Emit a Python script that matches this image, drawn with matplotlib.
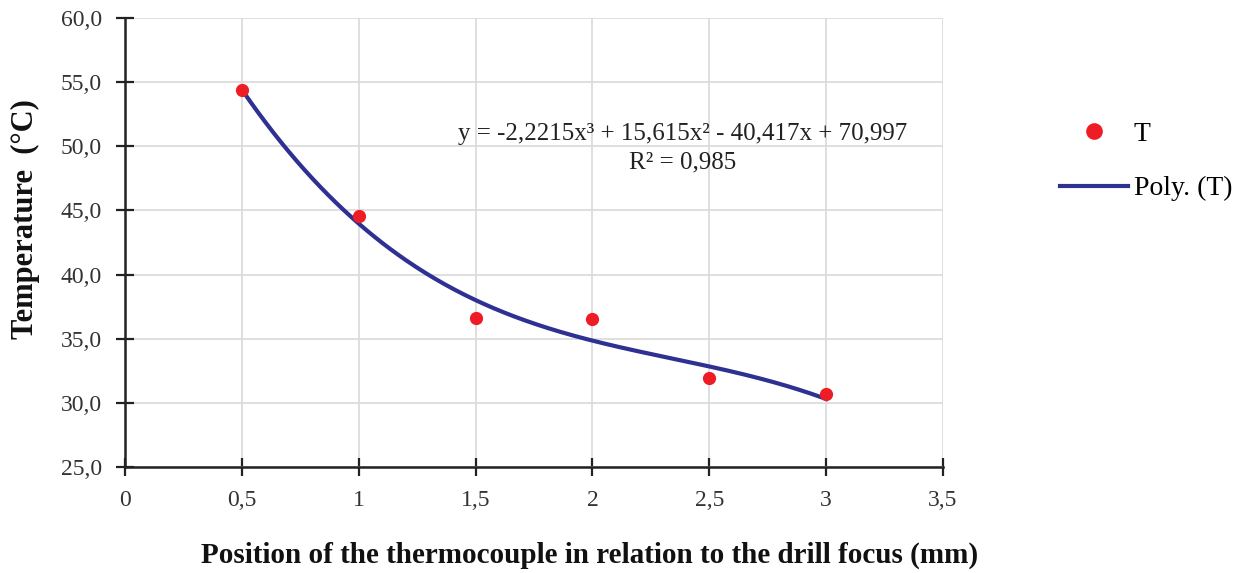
import numpy as np
import matplotlib
matplotlib.use("Agg")
import matplotlib.pyplot as plt
from matplotlib.lines import Line2D

plt.rcParams['font.family'] = ['Liberation Serif', 'DejaVu Serif']

# data
positions = [0.5, 1.0, 1.5, 2.0, 2.5, 3.0]
temperatures = [54.4, 44.6, 36.6, 36.5, 31.9, 30.7]
# trendline coefficients shown in chart (highest degree first)
poly_coeffs = [-2.2215, 15.615, -40.417, 70.997]
x_ticks = [0, 0.5, 1, 1.5, 2, 2.5, 3, 3.5]
x_tick_labels = ['0', '0,5', '1', '1,5', '2', '2,5', '3', '3,5']
y_ticks = [25, 30, 35, 40, 45, 50, 55, 60]
y_tick_labels = ['25,0', '30,0', '35,0', '40,0', '45,0', '50,0', '55,0', '60,0']

fig = plt.figure(figsize=(12.48, 5.73), dpi=100)
ax = fig.add_axes([0.1002, 0.185, 0.6554, 0.7836])

xs = np.linspace(min(positions), max(positions), 300)
ax.plot(xs, np.polyval(poly_coeffs, xs), color='#2E3192', lw=3, zorder=3)
ax.plot(positions, temperatures, 'o', color='#EE1C25', ms=9.5, mec='none', zorder=4)

ax.set_xlim(0, 3.5)
ax.set_ylim(25, 60)
ax.set_xticks(x_ticks)
ax.set_xticklabels(x_tick_labels)
ax.set_yticks(y_ticks)
ax.set_yticklabels(y_tick_labels)
ax.grid(True, color='#d9d9d9', lw=1.2)
ax.set_axisbelow(True)
for s in ['top', 'right']:
    ax.spines[s].set_visible(False)
for s in ['left', 'bottom']:
    ax.spines[s].set_linewidth(1.8)
    ax.spines[s].set_color('#222222')
ax.tick_params(direction='inout', length=13, width=1.6, labelsize=17,
               colors='#222222', labelcolor='#333333')
ax.tick_params(axis='x', pad=10)
ax.tick_params(axis='y', pad=10)

fig.text(590 / 1248, 1 - 555 / 573,
         'Position of the thermocouple in relation to the drill focus (mm)',
         ha='center', va='center', fontsize=21, fontweight='bold', color='#111111')
fig.text(25 / 1248, 1 - 219 / 573, 'Temperature  (°C)', rotation=90,
         ha='center', va='center', fontsize=22, fontweight='bold', color='#111111')

ax.text(683 / 1248, 1 - 134 / 573,
        'y = -2,2215x³ + 15,615x² - 40,417x + 70,997',
        transform=fig.transFigure, ha='center', va='center', fontsize=18, color='#222222')
ax.text(683 / 1248, 1 - 162 / 573, 'R² = 0,985',
        transform=fig.transFigure, ha='center', va='center', fontsize=18, color='#222222')

handles = [Line2D([], [], ls='none', marker='o', color='#EE1C25', ms=12, mec='none'),
           Line2D([], [], color='#2E3192', lw=3)]
fig.legend(handles, ['T', 'Poly. (T)'], loc='upper left',
           bbox_to_anchor=(1052 / 1248, 1 - 113 / 573), frameon=False,
           fontsize=20, handlelength=2.45, labelspacing=1.05, handletextpad=0.2,
           borderaxespad=0, borderpad=0.3)

fig.savefig('out.png', dpi=100)
